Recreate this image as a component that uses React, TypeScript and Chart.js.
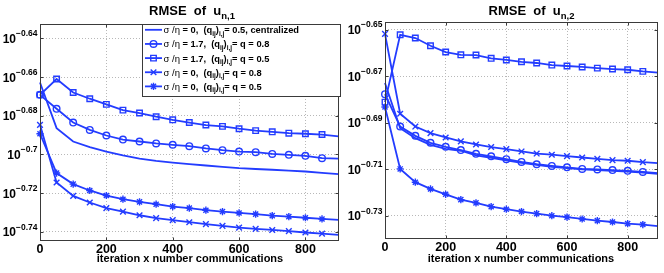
import React, { useEffect, useRef } from 'react';
import { Chart, registerables } from 'chart.js';
Chart.register(...registerables);

// iteration x number communications
const xIter = [0, 50, 100, 150, 200, 250, 300, 350, 400, 450, 500, 550, 600, 650, 700, 750, 800, 850, 900];

// Left panel (u_{n,1}) : log10(RMSE)
const L_central = [-0.6628, -0.6864, -0.6933, -0.6962, -0.6985, -0.7005, -0.7022, -0.7033, -0.7042, -0.7050, -0.7057, -0.7064, -0.7071, -0.7075, -0.7079, -0.7083, -0.7088, -0.7095, -0.7102];
const L_s17_q08 = [-0.6692, -0.6764, -0.6835, -0.6873, -0.6902, -0.6923, -0.6933, -0.6943, -0.6950, -0.6957, -0.6969, -0.6978, -0.6985, -0.6988, -0.6997, -0.7002, -0.7007, -0.7019, -0.7021];
const L_s17_q05 = [-0.6692, -0.6610, -0.6680, -0.6712, -0.6741, -0.6771, -0.6786, -0.6805, -0.6821, -0.6835, -0.6848, -0.6855, -0.6867, -0.6877, -0.6883, -0.6890, -0.6893, -0.6897, -0.6907];
const L_s0_q08 = [-0.6847, -0.7145, -0.7214, -0.7248, -0.7277, -0.7295, -0.7314, -0.7329, -0.7339, -0.7350, -0.7360, -0.7369, -0.7378, -0.7384, -0.7390, -0.7396, -0.7403, -0.7409, -0.7415];
const L_s0_q05 = [-0.6893, -0.7096, -0.7153, -0.7186, -0.7212, -0.7231, -0.7245, -0.7257, -0.7269, -0.7277, -0.7288, -0.7295, -0.7302, -0.7308, -0.7316, -0.7321, -0.7327, -0.7333, -0.7338];

// Right panel (u_{n,2}) : log10(RMSE)
const R_central = [-0.6729, -0.6923, -0.6966, -0.6995, -0.7012, -0.7020, -0.7040, -0.7050, -0.7061, -0.7072, -0.7081, -0.7089, -0.7095, -0.7100, -0.7103, -0.7106, -0.7109, -0.7114, -0.7119];
const R_s17_q08 = [-0.6777, -0.6916, -0.6956, -0.6986, -0.7003, -0.7017, -0.7033, -0.7044, -0.7056, -0.7068, -0.7078, -0.7085, -0.7091, -0.7098, -0.7100, -0.7103, -0.7106, -0.7111, -0.7116];
const R_s17_q05 = [-0.6811, -0.6522, -0.6536, -0.6569, -0.6596, -0.6608, -0.6609, -0.6623, -0.6630, -0.6638, -0.6643, -0.6652, -0.6656, -0.6660, -0.6665, -0.6669, -0.6672, -0.6679, -0.6684];
const R_s0_q08 = [-0.6518, -0.6861, -0.6916, -0.6944, -0.6963, -0.6980, -0.6993, -0.7004, -0.7013, -0.7023, -0.7032, -0.7037, -0.7043, -0.7049, -0.7055, -0.7060, -0.7063, -0.7069, -0.7073];
const R_s0_q05 = [-0.6832, -0.7098, -0.7155, -0.7184, -0.7207, -0.7230, -0.7244, -0.7260, -0.7271, -0.7281, -0.7290, -0.7299, -0.7305, -0.7313, -0.7320, -0.7326, -0.7333, -0.7337, -0.7344];

const xTicks = [0, 200, 400, 600, 800];
const yTicksLeft = [-0.64, -0.66, -0.68, -0.7, -0.72, -0.74];
const yTicksRight = [-0.65, -0.67, -0.69, -0.71, -0.73];
const yTickLabelsLeft = ['\u22120.64', '\u22120.66', '\u22120.68', '\u22120.7', '\u22120.72', '\u22120.74'];
const yTickLabelsRight = ['\u22120.65', '\u22120.67', '\u22120.69', '\u22120.71', '\u22120.73'];
const yRangeLeft = [-0.7447, -0.6326];
const yRangeRight = [-0.7399, -0.6467];
const xRange = [0, 900];

const legendSigma = ['0', '1.7', '1.7', '0', '0'];
const legendQ = ['0.5, centralized', 'q = 0.8', 'q = 0.5', 'q = 0.8', 'q = 0.5'];

const FONT = '"Liberation Sans", Arial, Helvetica, sans-serif';
const BLUE = 'rgb(35,60,255)';
const STYLES = ['none', 'circle', 'rect', 'crossRot', 'star'];
const RADII = [0, 3.3, 3.9, 4, 3.6];

type Seg = { t: string; size: number; bold?: boolean; dy?: number };

function segsWidth(ctx: CanvasRenderingContext2D, segs: Seg[]) {
  let w = 0;
  for (const s of segs) {
    ctx.font = `${s.bold === false ? '' : 'bold '}${s.size}px ${FONT}`;
    w += ctx.measureText(s.t).width;
  }
  return w;
}
function drawSegs(ctx: CanvasRenderingContext2D, x: number, y: number, segs: Seg[]) {
  let cx = x;
  ctx.textAlign = 'left';
  ctx.textBaseline = 'alphabetic';
  for (const s of segs) {
    ctx.font = `${s.bold === false ? '' : 'bold '}${s.size}px ${FONT}`;
    ctx.fillText(s.t, cx, y + (s.dy || 0));
    cx += ctx.measureText(s.t).width;
  }
  return cx;
}

function drawMarker(ctx: CanvasRenderingContext2D, style: string, x: number, y: number, r: number) {
  ctx.beginPath();
  if (style === 'circle') {
    ctx.arc(x, y, r, 0, Math.PI * 2);
  } else if (style === 'rect') {
    const s = r * Math.SQRT1_2;
    ctx.rect(x - s, y - s, 2 * s, 2 * s);
  } else if (style === 'crossRot' || style === 'star') {
    const s = r * Math.SQRT1_2;
    ctx.moveTo(x - s, y - s); ctx.lineTo(x + s, y + s);
    ctx.moveTo(x - s, y + s); ctx.lineTo(x + s, y - s);
    if (style === 'star') {
      ctx.moveTo(x - r, y); ctx.lineTo(x + r, y);
      ctx.moveTo(x, y - r); ctx.lineTo(x, y + r);
    }
  }
  ctx.stroke();
}

function makeDatasets(series: number[][]) {
  return series.map((s, i) => ({
    label: 'series' + i,
    data: xIter.map((x, j) => ({ x, y: Math.pow(10, s[j]) })),
    borderColor: BLUE,
    backgroundColor: 'rgba(0,0,0,0)',
    borderWidth: 1.8,
    pointStyle: STYLES[i] === 'none' ? 'circle' : STYLES[i],
    pointRadius: (c: any) => (STYLES[i] === 'none' || c.dataIndex === xIter.length - 1 ? 0 : RADII[i]),
    pointBorderWidth: 1.4,
    pointBorderColor: BLUE,
    pointBackgroundColor: 'rgba(0,0,0,0)',
    tension: 0,
    clip: false as any,
  }));
}

type PanelCfg = {
  series: number[][];
  yTicks: number[];
  yLabels: string[];
  yRange: number[];
  pad: { top: number; right: number; left: number };
  yWidth: number;
  xHeight: number;
  titleSub: string;
  titleCenter: number;
  xLabelCenter: number;
  showLegend: boolean;
};

function makeDecor(cfg: PanelCfg) {
  return {
    id: 'decor',
    afterDraw(chart: any) {
      const ctx: CanvasRenderingContext2D = chart.ctx;
      const a = chart.chartArea;
      const xs = chart.scales.x;
      const ys = chart.scales.y;
      ctx.save();
      // axes box
      ctx.strokeStyle = '#3a3a3a';
      ctx.lineWidth = 1;
      const L = Math.round(a.left) + 0.5, R = Math.round(a.right) - 0.5;
      const T = Math.round(a.top) + 0.5, B = Math.round(a.bottom) - 0.5;
      ctx.strokeRect(L, T, R - L, B - T);
      // inward ticks
      ctx.beginPath();
      for (const v of xTicks) {
        const px = Math.round(xs.getPixelForValue(v)) + 0.5;
        ctx.moveTo(px, B); ctx.lineTo(px, B - 3);
        ctx.moveTo(px, T); ctx.lineTo(px, T + 3);
      }
      for (const e of cfg.yTicks) {
        const py = Math.round(ys.getPixelForValue(Math.pow(10, e))) + 0.5;
        ctx.moveTo(L, py); ctx.lineTo(L + 3, py);
        ctx.moveTo(R, py); ctx.lineTo(R - 3, py);
      }
      ctx.stroke();

      ctx.fillStyle = '#000';
      // x tick labels
      ctx.font = `bold 12.5px ${FONT}`;
      ctx.textAlign = 'center';
      ctx.textBaseline = 'alphabetic';
      for (const v of xTicks) {
        ctx.fillText(String(v), xs.getPixelForValue(v), a.bottom + 11.8);
      }
      // y tick labels 10^{e}
      cfg.yTicks.forEach((e, i) => {
        const py = ys.getPixelForValue(Math.pow(10, e));
        const sup: Seg = { t: cfg.yLabels[i], size: 8.5 };
        const ten: Seg = { t: '10', size: 12 };
        const w = segsWidth(ctx, [ten, sup]);
        const x0 = a.left - 2.5 - w;
        const after = drawSegs(ctx, x0, py + 4.5, [ten]);
        drawSegs(ctx, after, py - 2.3, [sup]);
      });
      // x label
      ctx.font = `bold 11px ${FONT}`;
      ctx.textAlign = 'center';
      ctx.fillText('iteration x number communications', cfg.xLabelCenter, 262);
      // title
      const tsegs: Seg[] = [
        { t: 'RMSE  of  u', size: 13 },
        { t: cfg.titleSub, size: 9.5, dy: 4 },
      ];
      const tw = segsWidth(ctx, tsegs);
      drawSegs(ctx, cfg.titleCenter - tw / 2, 15, tsegs);

      // legend
      if (cfg.showLegend) {
        const bx = 142.5, by = 24.5, bw = 198, bh = 72;
        ctx.fillStyle = '#fff';
        ctx.fillRect(bx, by, bw, bh);
        ctx.strokeStyle = '#3a3a3a';
        ctx.lineWidth = 1;
        ctx.strokeRect(bx, by, bw, bh);
        for (let i = 0; i < 5; i++) {
          const cy = 29.8 + 14.15 * i;
          ctx.strokeStyle = BLUE;
          ctx.lineWidth = 1.8;
          ctx.beginPath();
          ctx.moveTo(145, cy); ctx.lineTo(162, cy);
          ctx.stroke();
          if (STYLES[i] !== 'none') {
            ctx.lineWidth = 1.4;
            drawMarker(ctx, STYLES[i], 153.5, cy, RADII[i]);
          }
          ctx.fillStyle = '#000';
          const segs: Seg[] = [
            { t: '\u03c3 /\u03b7', size: 9.5, bold: false },
            { t: ' = ' + legendSigma[i] + ',  (q', size: 9.3 },
            { t: 'ij', size: 6.5, dy: 2.5 },
            { t: ')', size: 9.3 },
            { t: 'i,j', size: 6.5, dy: 2.5 },
            { t: '= ' + legendQ[i], size: 9.3 },
          ];
          drawSegs(ctx, 163.5, cy + 3.5, segs);
        }
      }
      ctx.restore();
    },
  };
}

function Panel({ cfg, width, left }: { cfg: PanelCfg; width: number; left: number }) {
  const ref = useRef<HTMLCanvasElement>(null);
  useEffect(() => {
    const canvas = ref.current!;
    const chart = new Chart(canvas, {
      type: 'line',
      data: { datasets: makeDatasets(cfg.series) as any },
      options: {
        animation: false,
        responsive: false,
        devicePixelRatio: 1,
        layout: { padding: { top: cfg.pad.top, right: cfg.pad.right, left: cfg.pad.left, bottom: 0 } },
        plugins: { legend: { display: false }, tooltip: { enabled: false } },
        scales: {
          x: {
            type: 'linear',
            min: xRange[0],
            max: xRange[1],
            bounds: 'data',
            ticks: { display: false },
            grid: { color: '#b8b8b8', lineWidth: 1, drawTicks: false },
            border: { display: false, dash: [1, 2] },
            afterBuildTicks: (s: any) => { s.ticks = xTicks.map((v) => ({ value: v })); },
            afterFit: (s: any) => { s.height = cfg.xHeight; },
          },
          y: {
            type: 'logarithmic',
            min: Math.pow(10, cfg.yRange[0]),
            max: Math.pow(10, cfg.yRange[1]),
            bounds: 'data',
            ticks: { display: false },
            grid: { color: '#b8b8b8', lineWidth: 1, drawTicks: false },
            border: { display: false, dash: [1, 2] },
            afterBuildTicks: (s: any) => { s.ticks = cfg.yTicks.map((e) => ({ value: Math.pow(10, e) })); },
            afterFit: (s: any) => { s.width = cfg.yWidth; },
          },
        } as any,
      },
      plugins: [makeDecor(cfg)],
    });
    return () => chart.destroy();
  }, []);
  return (
    <canvas
      ref={ref}
      width={width}
      height={273}
      style={{ position: 'absolute', left, top: 0, width, height: 273 }}
    />
  );
}

const leftCfg: PanelCfg = {
  series: [L_central, L_s17_q08, L_s17_q05, L_s0_q08, L_s0_q05],
  yTicks: yTicksLeft,
  yLabels: yTickLabelsLeft,
  yRange: yRangeLeft,
  pad: { top: 24, right: 4, left: 0 },
  yWidth: 40,
  xHeight: 32,
  titleSub: 'n,1',
  titleCenter: 192,
  xLabelCenter: 190,
  showLegend: true,
};

const rightCfg: PanelCfg = {
  series: [R_central, R_s17_q08, R_s17_q05, R_s0_q08, R_s0_q05],
  yTicks: yTicksRight,
  yLabels: yTickLabelsRight,
  yRange: yRangeRight,
  pad: { top: 22, right: 6, left: 0 },
  yWidth: 41,
  xHeight: 34,
  titleSub: 'n,2',
  titleCenter: 187.5,
  xLabelCenter: 177,
  showLegend: false,
};

export default function App() {
  return (
    <div style={{ position: 'fixed', left: 0, top: 0, width: 664, height: 273, background: '#fff', overflow: 'hidden' }}>
      <Panel cfg={leftCfg} width={344} left={0} />
      <Panel cfg={rightCfg} width={320} left={344} />
    </div>
  );
}
